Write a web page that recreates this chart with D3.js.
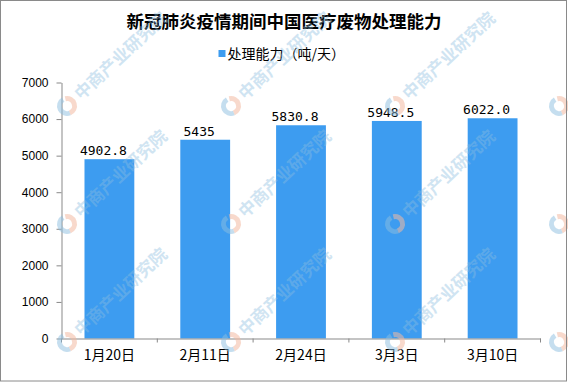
<!DOCTYPE html>
<html><head><meta charset="utf-8">
<script src="https://cdn.jsdelivr.net/npm/d3@7"></script>
<style>html,body{margin:0;padding:0;background:#fff;}svg{display:block;}</style>
</head><body>
<svg id="c" width="568" height="382"></svg>
<script>
const title = "新冠肺炎疫情期间中国医疗废物处理能力";
const seriesName = "处理能力（吨/天）";
const categories = ["1月20日", "2月11日", "2月24日", "3月3日", "3月10日"];
const values = [4902.8, 5435, 5830.8, 5948.5, 6022.0];
const valueLabels = ["4902.8", "5435", "5830.8", "5948.5", "6022.0"];
const yTicks = [0, 1000, 2000, 3000, 4000, 5000, 6000, 7000];

const W = 568, H = 382;
const svg = d3.select("#c");
const barColor = "#3d9cf0";
const axisColor = "#898989";
const cjk = "'Noto Sans CJK SC', 'Noto Sans', sans-serif";
const mono = "'DejaVu Sans Mono', monospace";

svg.append("rect").attr("x", 0).attr("y", 0).attr("width", W).attr("height", H).attr("fill", "#fff");

const x = d3.scaleBand().domain(categories).range([61.5, 540.5]).paddingInner(0.48).paddingOuter(0.24);
const y = d3.scaleLinear().domain([0, 7000]).range([338.5, 82.5]);

// bars
svg.append("g").selectAll("rect").data(values).join("rect")
  .attr("x", (d, i) => x(categories[i]))
  .attr("y", d => y(d))
  .attr("width", x.bandwidth())
  .attr("height", d => y(0) - y(d))
  .attr("fill", barColor);

// data labels
svg.append("g").selectAll("text").data(values).join("text")
  .attr("x", (d, i) => x(categories[i]) + x.bandwidth() / 2 - 6)
  .attr("y", d => y(d) - 4)
  .attr("text-anchor", "middle")
  .attr("font-family", mono).attr("font-size", 13).attr("fill", "#000")
  .text((d, i) => valueLabels[i]);

// y axis
const gy = svg.append("g").attr("transform", "translate(61.5,0)")
  .call(d3.axisLeft(y).tickValues(yTicks).tickFormat(d3.format("d")).tickSize(5).tickPadding(8).tickSizeOuter(0));
gy.select(".domain").attr("stroke", axisColor);
gy.selectAll(".tick line").attr("stroke", axisColor);
gy.selectAll("text").attr("font-family", "'Liberation Sans', Arial, sans-serif").attr("font-size", 12).attr("fill", "#000");

// x axis
const gx = svg.append("g").attr("transform", "translate(0,338.5)")
  .call(d3.axisBottom(x).tickSize(0).tickPadding(12));
gx.select(".domain").attr("stroke", axisColor);
gx.selectAll("text").attr("font-family", cjk).attr("font-size", 14).attr("fill", "#000");
// category boundary ticks
const edges = categories.map(c => x(c) - x.step() * x.paddingInner() / 2);
edges.push(x(categories[categories.length - 1]) + x.bandwidth() + x.step() * x.paddingInner() / 2);
gx.append("g").selectAll("line").data(edges).join("line")
  .attr("x1", d => d).attr("x2", d => d).attr("y1", 0).attr("y2", 4)
  .attr("stroke", axisColor);

// title
svg.append("text").attr("x", 284).attr("y", 28).attr("text-anchor", "middle")
  .attr("font-family", cjk).attr("font-weight", "bold").attr("font-size", 17.5).attr("fill", "#000")
  .text(title);

// legend
const lg = svg.append("g");
lg.append("rect").attr("x", 218.5).attr("y", 50).attr("width", 7).attr("height", 7).attr("fill", barColor);
lg.append("text").attr("x", 227.5).attr("y", 58.5).attr("font-family", cjk).attr("font-size", 14).attr("fill", "#000")
  .text(seriesName);

// watermark (decorative)
const wm = svg.append("g").attr("pointer-events", "none");
const cols = [67, 231, 395, 559];
const rows = [106, 224, 342];
rows.forEach(ry => cols.forEach(cx => {
  const g = wm.append("g").attr("transform", `translate(${cx},${ry})`);
  g.append("path").attr("d", d3.arc()({innerRadius: 5, outerRadius: 10, startAngle: Math.PI * 0.15, endAngle: Math.PI * 1.1}))
    .attr("fill", "#f3b9a3").attr("opacity", 0.55).attr("transform", "rotate(-40)");
  g.append("path").attr("d", d3.arc()({innerRadius: 5, outerRadius: 10, startAngle: Math.PI * 1.1, endAngle: Math.PI * 2.05}))
    .attr("fill", "#8bbde0").attr("opacity", 0.5).attr("transform", "rotate(-40)");
  if (cx < 500) {
    g.append("text").attr("transform", "rotate(-43) translate(14,6)")
      .attr("font-family", cjk).attr("font-weight", "bold").attr("font-size", 17)
      .attr("fill", "#8bbde0").attr("opacity", 0.4).text("中商产业研究院");
  }
}));

// outer frame
svg.append("rect").attr("x", 0.5).attr("y", 0.5).attr("width", 566).attr("height", 380.5)
  .attr("fill", "none").attr("stroke", "#8a8a8a");
</script>
</body></html>
